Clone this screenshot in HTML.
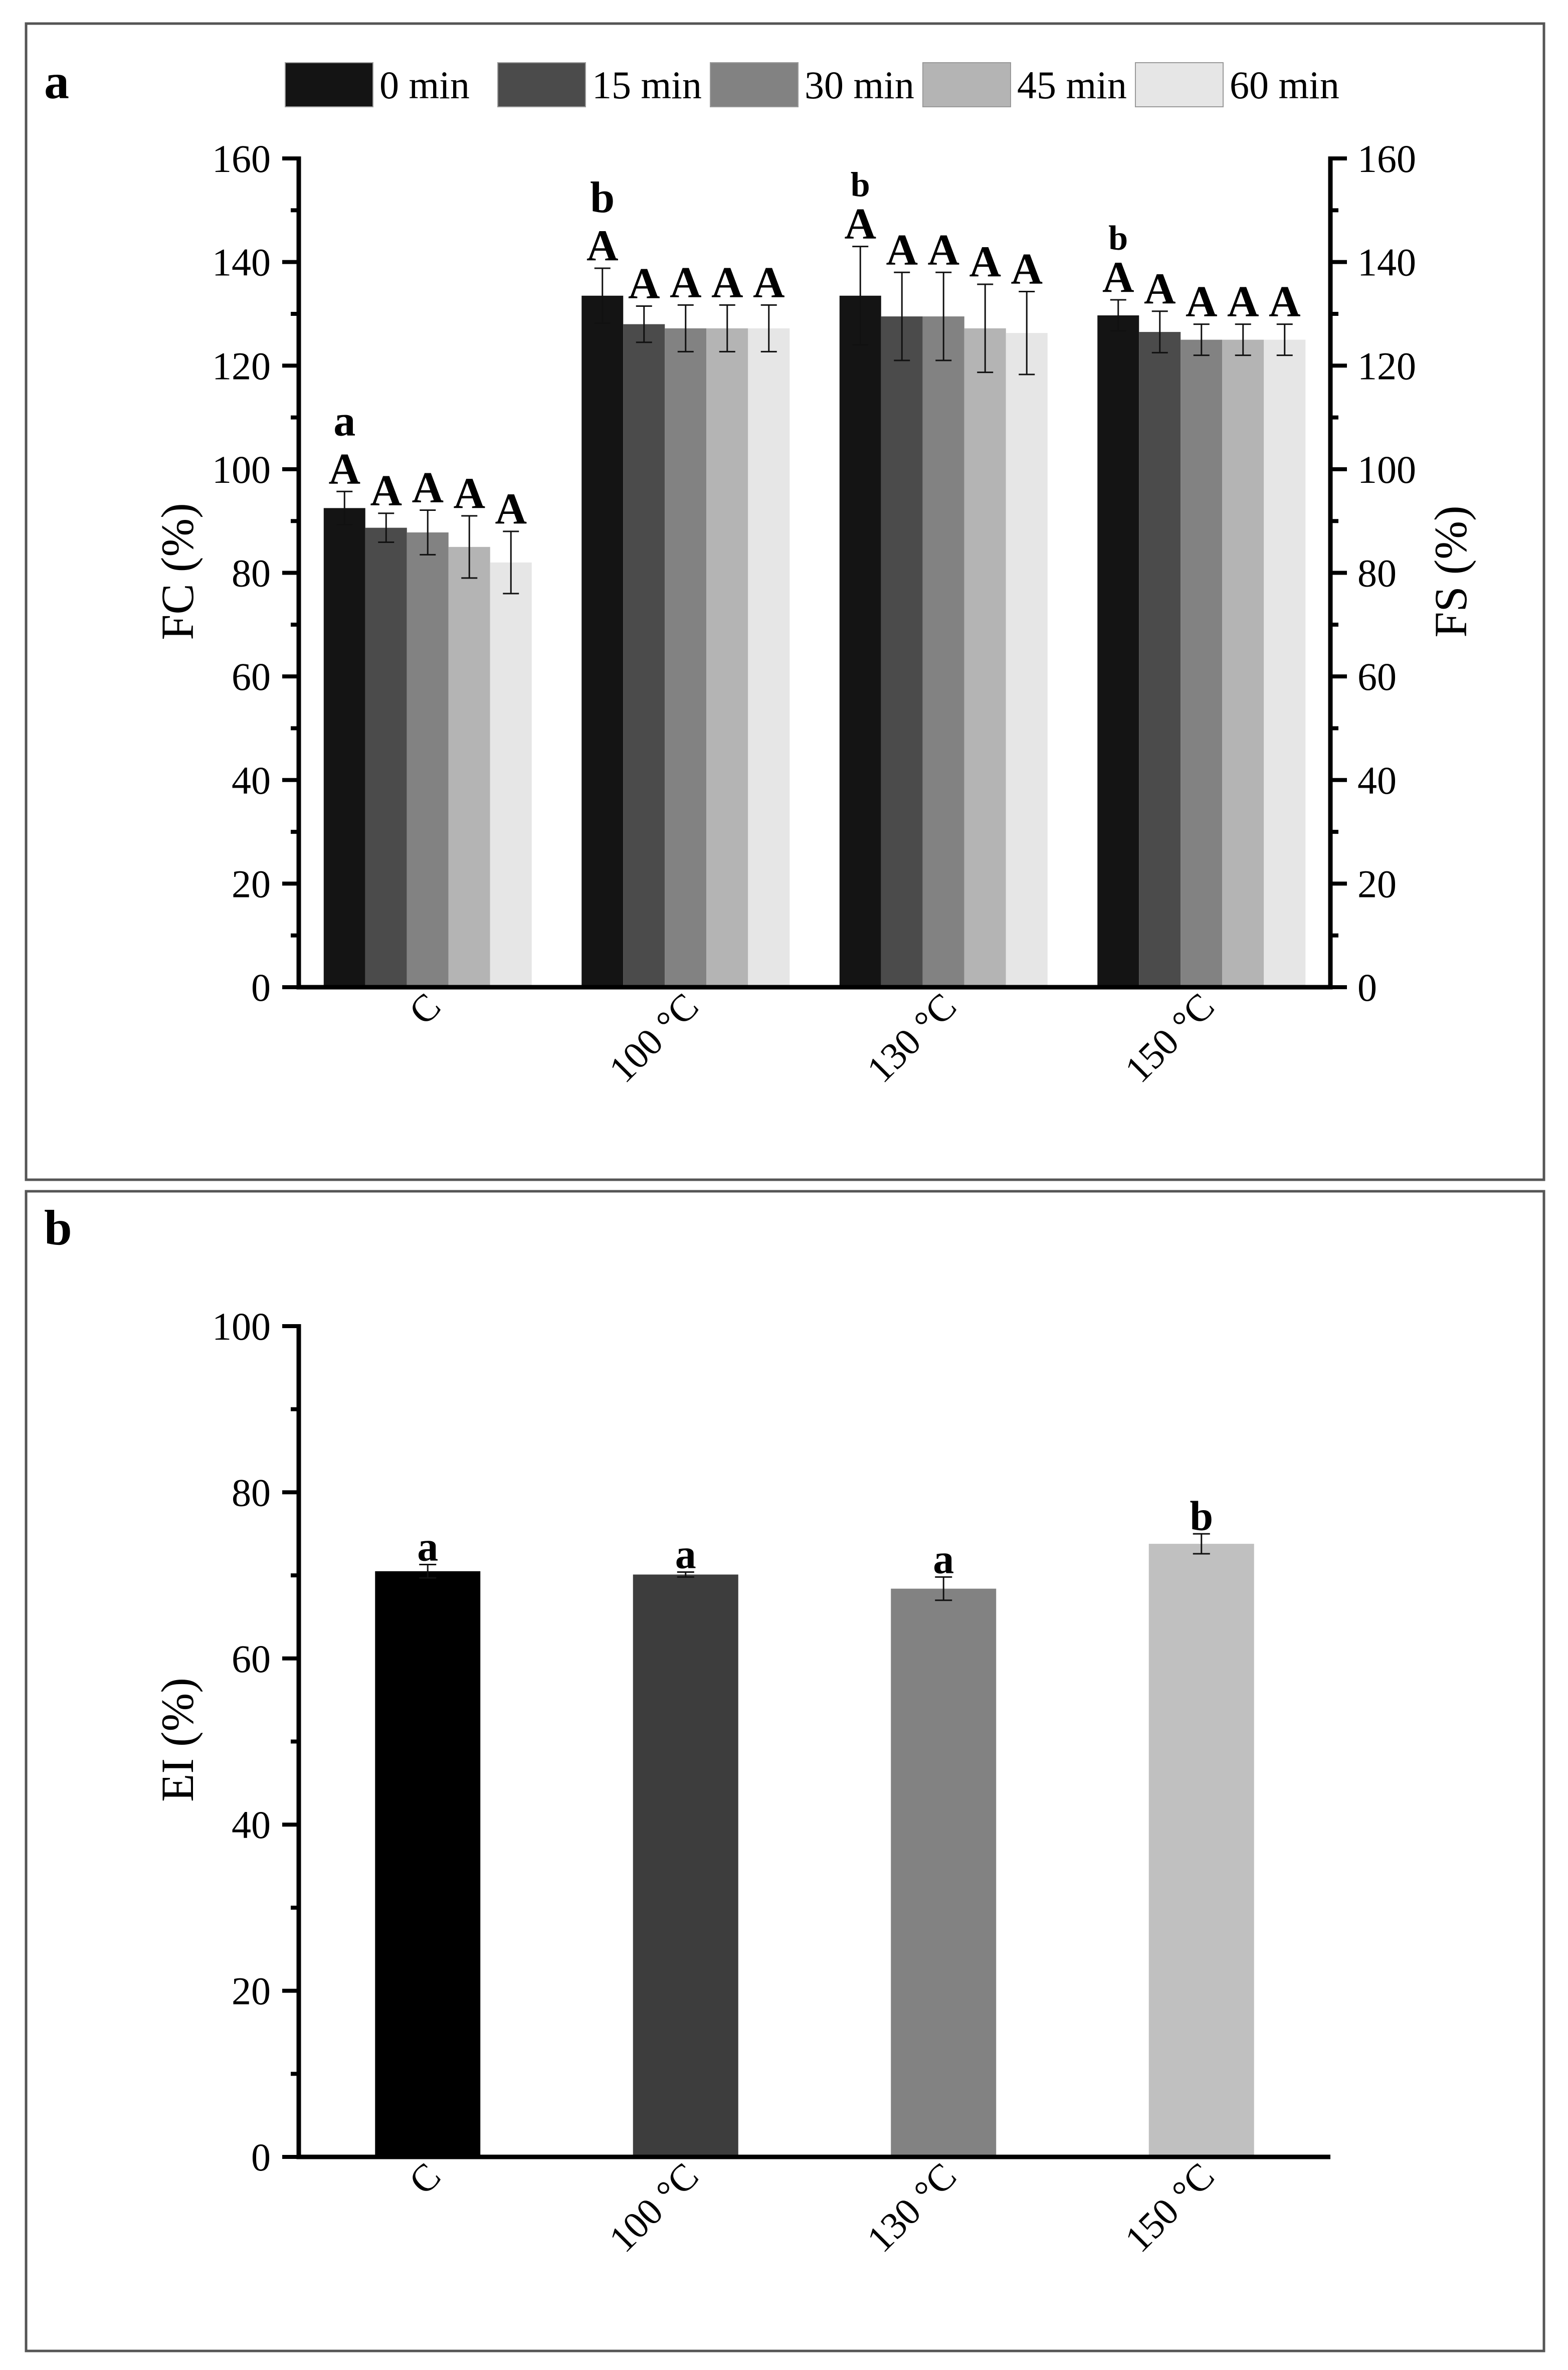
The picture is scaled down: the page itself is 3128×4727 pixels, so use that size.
<!DOCTYPE html>
<html><head><meta charset="utf-8"><style>
html,body{margin:0;padding:0;background:#fff}
svg{display:block}
text{font-family:"Liberation Serif",serif}
</style></head><body>
<svg id="chart" width="3128" height="4727" viewBox="0 0 3128 4727" xmlns="http://www.w3.org/2000/svg">
<rect x="52" y="47" width="3028" height="2306" fill="none" stroke="#555" stroke-width="5"/>
<rect x="52" y="2376" width="3028" height="2313" fill="none" stroke="#555" stroke-width="5"/>
<text x="88" y="196" font-size="100" font-weight="bold">a</text>
<text x="88" y="2482" font-size="100" font-weight="bold">b</text>
<text transform="translate(385,1140) rotate(-90)" text-anchor="middle" font-size="92">FC (%)</text>
<text transform="translate(2925,1140) rotate(-90)" text-anchor="middle" font-size="92">FS (%)</text>
<text transform="translate(385,3470) rotate(-90)" text-anchor="middle" font-size="92">EI (%)</text>
<g id="ga"></g><g id="gb"></g>
</svg>
<script>
const categories = ["C", "100 °C", "130 °C", "150 °C"];
const seriesNames = ["0 min", "15 min", "30 min", "45 min", "60 min"];
const fc0 = [92.5, 133.5, 133.5, 129.7];
const fc15 = [88.7, 128.0, 129.5, 126.5];
const fc30 = [87.8, 127.2, 129.5, 125.0];
const fc45 = [85.0, 127.2, 127.2, 125.0];
const fc60 = [82.0, 127.2, 126.3, 125.0];
const err0 = [3.2, 5.3, 9.5, 3.0];
const err15 = [2.8, 3.5, 8.5, 4.0];
const err30 = [4.3, 4.5, 8.5, 3.0];
const err45 = [6.0, 4.5, 8.5, 3.0];
const err60 = [6.0, 4.5, 8.0, 3.0];
const groupLetters = ["a", "b", "b", "b"];
const yTicksA = [0, 20, 40, 60, 80, 100, 120, 140, 160];
const eiValues = [70.5, 70.1, 68.4, 73.8];
const eiErr = [0.8, 0.3, 1.4, 1.2];
const eiLetters = ["a", "a", "a", "b"];
const yTicksB = [0, 20, 40, 60, 80, 100];

const NS = "http://www.w3.org/2000/svg";
function mk(parent, tag, attrs, txt) {
  const e = document.createElementNS(NS, tag);
  for (const k in attrs) e.setAttribute(k, attrs[k]);
  if (txt !== undefined) e.textContent = txt;
  parent.appendChild(e);
  return e;
}
const X0 = 596, X1 = 2654;
const catW = (X1 - X0) / categories.length;
function xCenter(i) { return X0 + catW * (i + 0.5); }

// ---------- Panel A ----------
const ga = document.getElementById("ga");
const yA = v => 1969 - (v / 160) * 1653;
const colorsA = ["#141414", "#4b4b4b", "#828282", "#b4b4b4", "#e6e6e6"];
const fcSeries = [fc0, fc15, fc30, fc45, fc60];
const errSeries = [err0, err15, err30, err45, err60];
const barW = 83;

seriesNames.forEach((n, s) => {
  const lx = 569 + s * 424;
  const r = mk(ga, "rect", {x: lx, y: 125, width: 175, height: 88, fill: colorsA[s], stroke: "#999", "stroke-width": 2});
  
  
  const t = mk(ga, "text", {x: lx + 188, y: 196, "font-size": 78}, n);
  
  
});

categories.forEach((c, i) => {
  const gx = xCenter(i) - 2.5 * barW;
  fcSeries.forEach((arr, s) => {
    const x = gx + s * barW;
    const top = yA(arr[i]);
    const b = mk(ga, "rect", {x: x, y: top, width: barW, height: 1969 - top, fill: colorsA[s]});
    
    
    const cx = x + barW / 2;
    const e1 = yA(arr[i] + errSeries[s][i]), e2 = yA(arr[i] - errSeries[s][i]);
    const eb = mk(ga, "path", {d: `M${cx},${e1}V${e2}M${cx-16},${e1}H${cx+16}M${cx-16},${e2}H${cx+16}`, stroke: "#111", "stroke-width": 3, fill: "none"});
    
    
    const t = mk(ga, "text", {x: cx, y: e1 - 16, "text-anchor": "middle", "font-size": 88, "font-weight": "bold"}, "A");
    
    
    if (s === 0) {
      const small = i >= 2;
      const t2 = mk(ga, "text", {x: cx, y: e1 - (small ? 100 : 112), "text-anchor": "middle", "font-size": small ? 70 : 88, "font-weight": "bold"}, groupLetters[i]);
      
      
    }
  });
  const lab = mk(ga, "text", {transform: `translate(${xCenter(i)+30},${2012}) rotate(-45)`, "text-anchor": "end", "font-size": 76}, c);
  
  
});

const axA = mk(ga, "path", {d: `M${X0},${yA(160)-4}V1969H${X1}V${yA(160)-4}`, stroke: "#000", "stroke-width": 9, fill: "none"});


for (let v = 0; v <= 160; v += 10) {
  const major = v % 20 === 0;
  const L = major ? 33 : 16;
  const y = yA(v);
  mk(ga, "path", {d: `M${X0-L},${y}H${X0}M${X1},${y}H${X1+L}`, stroke: "#000", "stroke-width": 8});
}
yTicksA.forEach(v => {
  const t1 = mk(ga, "text", {x: 540, y: yA(v) + 27, "text-anchor": "end", "font-size": 78}, String(v));
  
  
  const t2 = mk(ga, "text", {x: 2708, y: yA(v) + 27, "font-size": 78}, String(v));
  
  
});

// ---------- Panel B ----------
const gb = document.getElementById("gb");
const yB = v => 4302 - (v / 100) * 1657;
const colorsB = ["#000000", "#3d3d3d", "#828282", "#c0c0c0"];
const barWB = 210;
eiValues.forEach((v, i) => {
  const cx = xCenter(i);
  const top = yB(v);
  const b = mk(gb, "rect", {x: cx - barWB / 2, y: top, width: barWB, height: 4302 - top, fill: colorsB[i]});
  
  
  const e1 = yB(v + eiErr[i]), e2 = yB(v - eiErr[i]);
  const eb = mk(gb, "path", {d: `M${cx},${e1}V${e2}M${cx-17},${e1}H${cx+17}M${cx-17},${e2}H${cx+17}`, stroke: "#111", "stroke-width": 3, fill: "none"});
  
  
  const t = mk(gb, "text", {x: cx, y: e1 - 8, "text-anchor": "middle", "font-size": 84, "font-weight": "bold"}, eiLetters[i]);
  
  
  const lab = mk(gb, "text", {transform: `translate(${cx+30},${4345}) rotate(-45)`, "text-anchor": "end", "font-size": 76}, categories[i]);
  
  
});
const axB = mk(gb, "path", {d: `M${X0},${yB(100)-4}V4302H${X1}`, stroke: "#000", "stroke-width": 9, fill: "none"});


for (let v = 0; v <= 100; v += 10) {
  const L = v % 20 === 0 ? 33 : 16;
  mk(gb, "path", {d: `M${X0-L},${yB(v)}H${X0}`, stroke: "#000", "stroke-width": 8});
}
yTicksB.forEach(v => {
  const t = mk(gb, "text", {x: 540, y: yB(v) + 27, "text-anchor": "end", "font-size": 78}, String(v));
  
  
});
</script>
</body></html>
